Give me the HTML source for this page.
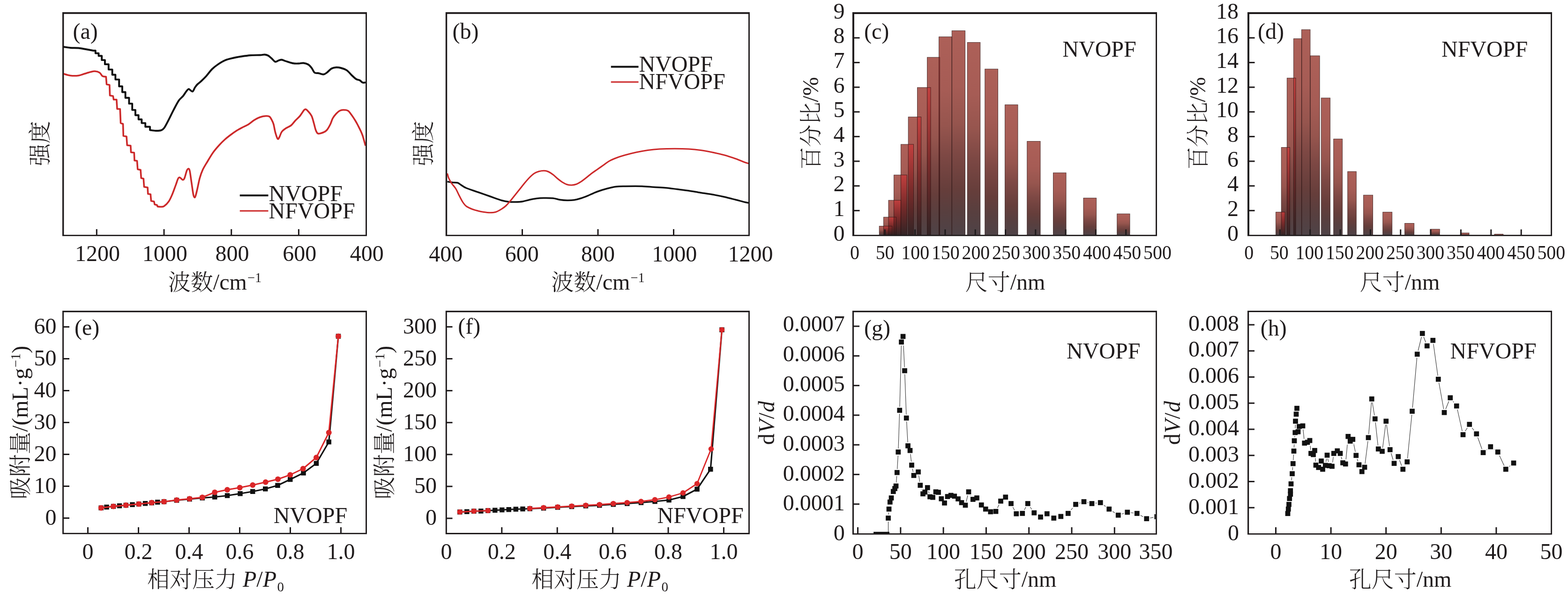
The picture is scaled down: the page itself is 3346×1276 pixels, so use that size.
<!DOCTYPE html>
<html lang="zh">
<head>
<meta charset="utf-8">
<title>NVOPF / NFVOPF characterization</title>
<style>
html,body{margin:0;padding:0;background:#fff;}
body{width:3346px;height:1276px;}
svg{display:block;}
.t{font-family:"Liberation Serif","Noto Serif CJK SC",serif;fill:#1f1b1c;font-weight:400;}
.c{font-family:"Liberation Serif","Noto Serif CJK SC",serif;fill:#1f1b1c;font-weight:300;}
.i{font-style:italic;font-weight:400;}
</style>
</head>
<body>
<svg width="3346" height="1276" viewBox="0 0 3346 1276">
<defs>
<linearGradient id="gb" x1="0" y1="0" x2="0" y2="1">
<stop offset="0" stop-color="#ad6058"/>
<stop offset="0.27" stop-color="#a65c55"/>
<stop offset="0.45" stop-color="#96554e"/>
<stop offset="0.6" stop-color="#7d4844"/>
<stop offset="0.77" stop-color="#663e3b"/>
<stop offset="0.88" stop-color="#583f3f"/>
<stop offset="1" stop-color="#4e4347"/>
</linearGradient>
<linearGradient id="go" x1="0" y1="0" x2="0" y2="1">
<stop offset="0" stop-color="#c63a3a"/>
<stop offset="0.5" stop-color="#7a2626"/>
<stop offset="1" stop-color="#2e1f20"/>
</linearGradient>
</defs>
<rect x="0" y="0" width="3346" height="1276" fill="#ffffff"/>
<path d="M133,26H783V503.8H133Z M136.4,29.8V501H780.1V29.8Z" fill="#1f1b1c" fill-rule="evenodd"/>
<line x1="206.3" y1="502" x2="206.3" y2="489" stroke="#1f1b1c" stroke-width="3"/>
<line x1="350" y1="502" x2="350" y2="489" stroke="#1f1b1c" stroke-width="3"/>
<line x1="493.7" y1="502" x2="493.7" y2="489" stroke="#1f1b1c" stroke-width="3"/>
<line x1="637.4" y1="502" x2="637.4" y2="489" stroke="#1f1b1c" stroke-width="3"/>
<text x="208.1" y="557" font-size="48" text-anchor="middle" class="t" >1200</text>
<text x="351.8" y="557" font-size="48" text-anchor="middle" class="t" >1000</text>
<text x="495.5" y="557" font-size="48" text-anchor="middle" class="t" >800</text>
<text x="639.2" y="557" font-size="48" text-anchor="middle" class="t" >600</text>
<text x="782.8" y="557" font-size="48" text-anchor="middle" class="t" >400</text>
<text x="458.5" y="617.5" font-size="48" text-anchor="middle" class="t" ><tspan class="c" dy="1.2">波数</tspan><tspan dy="-1.2">/</tspan>cm<tspan dx="1" dy="-16" font-size="28.5">−1</tspan></text>
<text transform="translate(101 306) rotate(-90)" font-size="48" text-anchor="middle" class="t" ><tspan class="c" dy="1.2">强度</tspan></text>
<text x="155.5" y="82.5" font-size="48" text-anchor="start" class="t" >(a)</text>
<clipPath id="ca"><rect x="136" y="29" width="644" height="472"/></clipPath>
<path d="M135.5,157.5C137.92,158.12 144.67,160.62 150,161.25C155.33,161.88 162.5,161.88 167.5,161.25C172.5,160.62 175.83,158.75 180,157.5C184.17,156.25 188.75,154.67 192.5,153.75C196.25,152.83 199.17,151.79 202.5,152C205.83,152.21 209.79,153.25 212.5,155C215.21,156.75 216.46,161.04 218.75,162.5C221.04,163.96 225,163.54 226.25,163.75L226.25,163.75L227.5,180L233.75,181.25L234.5,203.75L241.25,205L242.5,212.5L248.75,212.5L250,232.5L256.25,232.5L257.5,262.5L262.5,264.5L263.25,290L270,291.25L271.25,310L278.75,310.75L279.5,325L286.25,325.75L287,342.5L292.5,343.25L293.75,361.25L300,362.5L301.25,380L306.25,381.25L307.5,398.75L315,400L315.75,413.75L321.25,414.5L322.5,428.75L328.75,430L330,436.25L335,437.5L336.25,440.75L336.25,440.75C337.29,440.83 340.21,441.38 342.5,441.25C344.79,441.12 347.08,441.88 350,440C352.92,438.12 357.08,434.17 360,430C362.92,425.83 365,420.83 367.5,415C370,409.17 372.92,400.62 375,395C377.08,389.38 378.54,383.96 380,381.25C381.46,378.54 382.08,378.33 383.75,378.75C385.42,379.17 388.33,383.54 390,383.75C391.67,383.96 392.29,383.33 393.75,380C395.21,376.67 397.29,367.08 398.75,363.75C400.21,360.42 401.46,359.79 402.5,360C403.54,360.21 403.96,360 405,365C406.04,370 407.5,381.67 408.75,390C410,398.33 411.46,409.79 412.5,415C413.54,420.21 414.17,420.83 415,421.25C415.83,421.67 416.46,420.62 417.5,417.5C418.54,414.38 419.79,408.75 421.25,402.5C422.71,396.25 424.38,386.67 426.25,380C428.12,373.33 429.79,368.33 432.5,362.5C435.21,356.67 438.75,351.25 442.5,345C446.25,338.75 450.83,330.83 455,325C459.17,319.17 463.33,314.58 467.5,310C471.67,305.42 475.83,301.25 480,297.5C484.17,293.75 488.33,290.62 492.5,287.5C496.67,284.38 500.83,281.38 505,278.75C509.17,276.12 513.33,273.96 517.5,271.75C521.67,269.54 525.83,268.08 530,265.5C534.17,262.92 538.33,258.83 542.5,256.25C546.67,253.67 550.83,251.46 555,250C559.17,248.54 564.17,247.71 567.5,247.5C570.83,247.29 572.92,247.29 575,248.75C577.08,250.21 578.54,253.54 580,256.25C581.46,258.96 582.5,260.62 583.75,265C585,269.38 586.04,277.29 587.5,282.5C588.96,287.71 591.04,294.58 592.5,296.25C593.96,297.92 594.79,295 596.25,292.5C597.71,290 598.96,284.38 601.25,281.25C603.54,278.12 606.67,276.04 610,273.75C613.33,271.46 617.92,270.21 621.25,267.5C624.58,264.79 626.88,260.83 630,257.5C633.12,254.17 636.88,251.25 640,247.5C643.12,243.75 646.67,237.38 648.75,235C650.83,232.62 651.04,232.83 652.5,233.25C653.96,233.67 655.42,235.12 657.5,237.5C659.58,239.88 662.92,243.12 665,247.5C667.08,251.88 668.54,258.75 670,263.75C671.46,268.75 672.29,273.96 673.75,277.5C675.21,281.04 676.04,284.17 678.75,285C681.46,285.83 686.88,283.75 690,282.5C693.12,281.25 695,280.42 697.5,277.5C700,274.58 702.92,269.17 705,265C707.08,260.83 707.92,256.25 710,252.5C712.08,248.75 715,245.21 717.5,242.5C720,239.79 722.5,237.58 725,236.25C727.5,234.92 729.58,234.5 732.5,234.5C735.42,234.5 739.58,234.5 742.5,236.25C745.42,238 747.5,241.67 750,245C752.5,248.33 755.42,252.92 757.5,256.25C759.58,259.58 760.42,261.04 762.5,265C764.58,268.96 768.08,275.83 770,280C771.92,284.17 772.33,284.83 774,290C775.67,295.17 779,307.5 780,311" fill="none" stroke="#cc2829" stroke-width="3.6" stroke-linejoin="round" clip-path="url(#ca)"/>
<path d="M135.5,100C137.92,100.33 144.67,101.58 150,102C155.33,102.42 162.5,102.08 167.5,102.5C172.5,102.92 174.75,103.58 180,104.5C185.25,105.42 195.83,107.42 199,108L199.04,108L203.75,108L203.75,113.61L210.47,113.61L210.47,119.21L217.19,119.21L217.19,128.17L223.91,128.17L223.91,137.13L231.75,137.13L231.75,148.33L239.59,148.33L239.59,159.53L246.31,159.53L246.31,169.61L254.16,169.61L254.16,184.18L260.88,184.18L260.88,196.5L267.6,196.5L267.6,208.82L275.44,208.82L275.44,221.14L282.16,221.14L282.16,234.58L288.88,234.58L288.88,245.79L295.6,245.79L295.6,254.75L302.32,254.75L302.32,262.59L310.16,262.59L310.16,270.43L320.02,270.43L320.02,277.6L320.02,277.6C322.08,277.82 328.42,278.87 332.34,278.94C336.26,279.02 340.56,279.02 343.55,278.05C346.53,277.08 347.65,276.63 350.27,273.12C352.88,269.61 355.87,263.41 359.23,256.99C362.59,250.56 366.7,241.68 370.43,234.58C374.16,227.49 378.27,219.35 381.63,214.42C384.99,209.49 387.95,208.25 390.59,205.01C393.24,201.77 395.52,197.5 397.5,195C399.48,192.5 401.04,190.42 402.5,190C403.96,189.58 404.79,191.67 406.25,192.5C407.71,193.33 409.58,196.04 411.25,195C412.92,193.96 414.58,188.75 416.25,186.25C417.92,183.75 418.96,182.29 421.25,180C423.54,177.71 426.88,175.42 430,172.5C433.12,169.58 436.25,166.67 440,162.5C443.75,158.33 448.33,151.67 452.5,147.5C456.67,143.33 460.42,140.62 465,137.5C469.58,134.38 474.58,131.04 480,128.75C485.42,126.46 491.67,125.12 497.5,123.75C503.33,122.38 508.75,121.46 515,120.5C521.25,119.54 528.33,118.5 535,118C541.67,117.5 550,117.75 555,117.5C560,117.25 562.08,116.29 565,116.5C567.92,116.71 570,117.33 572.5,118.75C575,120.17 577.5,122.83 580,125C582.5,127.17 585,131.12 587.5,131.75C590,132.38 592.71,129.46 595,128.75C597.29,128.04 598.75,127.21 601.25,127.5C603.75,127.79 606.04,129.25 610,130.5C613.96,131.75 620.42,134.17 625,135C629.58,135.83 633.75,135.58 637.5,135.5C641.25,135.42 644.17,134.17 647.5,134.5C650.83,134.83 654.58,135.75 657.5,137.5C660.42,139.25 662.71,142.08 665,145C667.29,147.92 668.75,153.12 671.25,155C673.75,156.88 676.88,155.62 680,156.25C683.12,156.88 687.08,158.96 690,158.75C692.92,158.54 694.58,157.08 697.5,155C700.42,152.92 704.17,148.12 707.5,146.25C710.83,144.38 714.17,143.96 717.5,143.75C720.83,143.54 723.75,143.96 727.5,145C731.25,146.04 736.25,147.5 740,150C743.75,152.5 746.67,156.88 750,160C753.33,163.12 757.08,166.88 760,168.75C762.92,170.62 765.17,170 767.5,171.25C769.83,172.5 771.92,175.46 774,176.25C776.08,177.04 779,176.04 780,176" fill="none" stroke="#0e0e0e" stroke-width="3.9" stroke-linejoin="round" clip-path="url(#ca)"/>
<line x1="511.75" y1="417" x2="572.5" y2="417" stroke="#111111" stroke-width="4"/>
<line x1="511.75" y1="450" x2="572.5" y2="450" stroke="#cc2829" stroke-width="3"/>
<text x="573.5" y="428.75" font-size="48" text-anchor="start" class="t" >NVOPF</text>
<text x="573.5" y="465.75" font-size="48" text-anchor="start" class="t" >NFVOPF</text>
<path d="M950.8,26H1599.9V503.8H950.8Z M954.2,29.8V501H1597V29.8Z" fill="#1f1b1c" fill-rule="evenodd"/>
<line x1="1114.5" y1="502" x2="1114.5" y2="489" stroke="#1f1b1c" stroke-width="3"/>
<line x1="1276" y1="502" x2="1276" y2="489" stroke="#1f1b1c" stroke-width="3"/>
<line x1="1437.5" y1="502" x2="1437.5" y2="489" stroke="#1f1b1c" stroke-width="3"/>
<text x="951.3" y="557.6" font-size="48" text-anchor="middle" class="t" >400</text>
<text x="1113.8" y="557.6" font-size="48" text-anchor="middle" class="t" >600</text>
<text x="1276" y="557.6" font-size="48" text-anchor="middle" class="t" >800</text>
<text x="1439.2" y="557.6" font-size="48" text-anchor="middle" class="t" >1000</text>
<text x="1601.4" y="557.6" font-size="48" text-anchor="middle" class="t" >1200</text>
<text x="1276" y="617.5" font-size="48" text-anchor="middle" class="t" ><tspan class="c" dy="1.2">波数</tspan><tspan dy="-1.2">/</tspan>cm<tspan dx="1" dy="-16" font-size="28.5">−1</tspan></text>
<text transform="translate(919 306) rotate(-90)" font-size="48" text-anchor="middle" class="t" ><tspan class="c" dy="1.2">强度</tspan></text>
<text x="965.5" y="83" font-size="48" text-anchor="start" class="t" >(b)</text>
<clipPath id="cb"><rect x="954" y="29" width="643" height="472"/></clipPath>
<path d="M954.5,387.5C956.25,387.79 961.38,388.83 965,389.25C968.62,389.67 973.33,389.25 976.25,390C979.17,390.75 979.38,391.88 982.5,393.75C985.62,395.62 988.75,398.54 995,401.25C1001.25,403.96 1011.67,407.08 1020,410C1028.33,412.92 1036.67,415.83 1045,418.75C1053.33,421.67 1063.33,425.54 1070,427.5C1076.67,429.46 1080,429.92 1085,430.5C1090,431.08 1095,431.08 1100,431C1105,430.92 1110,430.79 1115,430C1120,429.21 1125,427.33 1130,426.25C1135,425.17 1140,424.12 1145,423.5C1150,422.88 1154.17,422.58 1160,422.5C1165.83,422.42 1174.17,422.38 1180,423C1185.83,423.62 1190,425.5 1195,426.25C1200,427 1205,427.42 1210,427.5C1215,427.58 1220,427.5 1225,426.75C1230,426 1234.58,424.75 1240,423C1245.42,421.25 1251.67,418.62 1257.5,416.25C1263.33,413.88 1268.75,411.04 1275,408.75C1281.25,406.46 1288.33,404.25 1295,402.5C1301.67,400.75 1308.33,399.08 1315,398.25C1321.67,397.42 1325.83,397.62 1335,397.5C1344.17,397.38 1360,397.21 1370,397.5C1380,397.79 1386.67,398.71 1395,399.25C1403.33,399.79 1411.67,400 1420,400.75C1428.33,401.5 1436.67,402.71 1445,403.75C1453.33,404.79 1461.67,405.75 1470,407C1478.33,408.25 1486.67,409.92 1495,411.25C1503.33,412.58 1511.67,413.54 1520,415C1528.33,416.46 1536.67,418.12 1545,420C1553.33,421.88 1562.67,424.38 1570,426.25C1577.33,428.12 1584.33,430.12 1589,431.25C1593.67,432.38 1596.5,432.71 1598,433" fill="none" stroke="#111111" stroke-width="3.5" stroke-linejoin="round" clip-path="url(#cb)"/>
<path d="M954.5,370C955,371.67 955.96,376.46 957.5,380C959.04,383.54 961.25,387.5 963.75,391.25C966.25,395 969.79,398.12 972.5,402.5C975.21,406.88 977.5,412.71 980,417.5C982.5,422.29 985,427.5 987.5,431.25C990,435 991.67,437.5 995,440C998.33,442.5 1003.33,444.58 1007.5,446.25C1011.67,447.92 1015.83,448.96 1020,450C1024.17,451.04 1028.33,451.88 1032.5,452.5C1036.67,453.12 1040.83,453.75 1045,453.75C1049.17,453.75 1053.33,453.75 1057.5,452.5C1061.67,451.25 1066.25,448.54 1070,446.25C1073.75,443.96 1076.67,441.88 1080,438.75C1083.33,435.62 1086.67,431.46 1090,427.5C1093.33,423.54 1096.67,419.17 1100,415C1103.33,410.83 1106.67,406.67 1110,402.5C1113.33,398.33 1116.67,393.96 1120,390C1123.33,386.04 1126.67,382.08 1130,378.75C1133.33,375.42 1136.67,372.17 1140,370C1143.33,367.83 1146.46,366.71 1150,365.75C1153.54,364.79 1157.92,364.17 1161.25,364.25C1164.58,364.33 1166.88,364.88 1170,366.25C1173.12,367.62 1176.67,370 1180,372.5C1183.33,375 1186.67,378.54 1190,381.25C1193.33,383.96 1196.67,386.67 1200,388.75C1203.33,390.83 1206.67,392.71 1210,393.75C1213.33,394.79 1216.67,395.12 1220,395C1223.33,394.88 1226.67,394.25 1230,393C1233.33,391.75 1236.67,389.67 1240,387.5C1243.33,385.33 1246.25,382.92 1250,380C1253.75,377.08 1258.33,373.12 1262.5,370C1266.67,366.88 1270.83,364.17 1275,361.25C1279.17,358.33 1283.33,355.42 1287.5,352.5C1291.67,349.58 1295.42,346.33 1300,343.75C1304.58,341.17 1309.58,339.08 1315,337C1320.42,334.92 1325.42,333.25 1332.5,331.25C1339.58,329.25 1349.17,326.79 1357.5,325C1365.83,323.21 1374.17,321.67 1382.5,320.5C1390.83,319.33 1397.92,318.54 1407.5,318C1417.08,317.46 1429.58,317.25 1440,317.25C1450.42,317.25 1460.83,317.46 1470,318C1479.17,318.54 1486.67,319.33 1495,320.5C1503.33,321.67 1511.67,323.29 1520,325C1528.33,326.71 1536.67,328.46 1545,330.75C1553.33,333.04 1562.67,336.17 1570,338.75C1577.33,341.33 1584.33,344.54 1589,346.25C1593.67,347.96 1596.5,348.54 1598,349" fill="none" stroke="#cc2829" stroke-width="3.1" stroke-linejoin="round" clip-path="url(#cb)"/>
<line x1="1303.75" y1="142.5" x2="1362.5" y2="142.5" stroke="#111111" stroke-width="4"/>
<line x1="1303.75" y1="175" x2="1362.5" y2="175" stroke="#cc2829" stroke-width="3"/>
<text x="1363.5" y="152.5" font-size="48" text-anchor="start" class="t" >NVOPF</text>
<text x="1363.5" y="190" font-size="48" text-anchor="start" class="t" >NFVOPF</text>
<rect x="1876.25" y="482.5" width="27.5" height="19.5" fill="url(#gb)"/>
<rect x="1885.5" y="463.25" width="27" height="38.75" fill="url(#gb)"/>
<rect x="1896" y="427.3" width="26.5" height="74.7" fill="url(#gb)"/>
<rect x="1907.5" y="373.3" width="27.7" height="128.7" fill="url(#gb)"/>
<rect x="1922.4" y="308" width="27.1" height="194" fill="url(#gb)"/>
<rect x="1938.2" y="249.5" width="27.4" height="252.5" fill="url(#gb)"/>
<rect x="1957.5" y="186.75" width="28.5" height="315.25" fill="url(#gb)"/>
<rect x="1978.6" y="122.25" width="26.7" height="379.75" fill="url(#gb)"/>
<rect x="2003.6" y="78.5" width="27.65" height="423.5" fill="url(#gb)"/>
<rect x="2031.25" y="65.5" width="28.25" height="436.5" fill="url(#gb)"/>
<rect x="2064.25" y="90.5" width="27.5" height="411.5" fill="url(#gb)"/>
<rect x="2101.75" y="147.25" width="27.75" height="354.75" fill="url(#gb)"/>
<rect x="2144.5" y="223.5" width="27.5" height="278.5" fill="url(#gb)"/>
<rect x="2191.75" y="301.5" width="28.25" height="200.5" fill="url(#gb)"/>
<rect x="2247.5" y="368.75" width="27.5" height="133.25" fill="url(#gb)"/>
<rect x="2312" y="422.5" width="27.5" height="79.5" fill="url(#gb)"/>
<rect x="2383.75" y="456.25" width="27.25" height="45.75" fill="url(#gb)"/>
<rect x="1885.5" y="482.5" width="18.25" height="19.5" fill="url(#go)" opacity="0.85"/>
<rect x="1896" y="482.5" width="7.75" height="19.5" fill="url(#go)" opacity="0.85"/>
<rect x="1896" y="463.25" width="16.5" height="38.75" fill="url(#go)" opacity="0.85"/>
<rect x="1907.5" y="463.25" width="5" height="38.75" fill="url(#go)" opacity="0.85"/>
<rect x="1907.5" y="427.3" width="15" height="74.7" fill="url(#go)" opacity="0.85"/>
<rect x="1922.4" y="373.3" width="12.8" height="128.7" fill="url(#go)" opacity="0.85"/>
<rect x="1938.2" y="308" width="11.3" height="194" fill="url(#go)" opacity="0.85"/>
<rect x="1957.5" y="249.5" width="8.1" height="252.5" fill="url(#go)" opacity="0.85"/>
<rect x="1978.6" y="186.75" width="7.4" height="315.25" fill="url(#go)" opacity="0.85"/>
<rect x="2003.6" y="122.25" width="1.7" height="379.75" fill="url(#go)" opacity="0.85"/>
<rect x="1876.25" y="482.5" width="27.5" height="19.5" fill="none" stroke="#2a1212" stroke-width="1" stroke-opacity="0.75"/>
<rect x="1885.5" y="463.25" width="27" height="38.75" fill="none" stroke="#2a1212" stroke-width="1" stroke-opacity="0.75"/>
<rect x="1896" y="427.3" width="26.5" height="74.7" fill="none" stroke="#2a1212" stroke-width="1" stroke-opacity="0.75"/>
<rect x="1907.5" y="373.3" width="27.7" height="128.7" fill="none" stroke="#2a1212" stroke-width="1" stroke-opacity="0.75"/>
<rect x="1922.4" y="308" width="27.1" height="194" fill="none" stroke="#2a1212" stroke-width="1" stroke-opacity="0.75"/>
<rect x="1938.2" y="249.5" width="27.4" height="252.5" fill="none" stroke="#2a1212" stroke-width="1" stroke-opacity="0.75"/>
<rect x="1957.5" y="186.75" width="28.5" height="315.25" fill="none" stroke="#2a1212" stroke-width="1" stroke-opacity="0.75"/>
<rect x="1978.6" y="122.25" width="26.7" height="379.75" fill="none" stroke="#2a1212" stroke-width="1" stroke-opacity="0.75"/>
<rect x="2003.6" y="78.5" width="27.65" height="423.5" fill="none" stroke="#2a1212" stroke-width="1" stroke-opacity="0.75"/>
<rect x="2031.25" y="65.5" width="28.25" height="436.5" fill="none" stroke="#2a1212" stroke-width="1" stroke-opacity="0.75"/>
<rect x="2064.25" y="90.5" width="27.5" height="411.5" fill="none" stroke="#2a1212" stroke-width="1" stroke-opacity="0.75"/>
<rect x="2101.75" y="147.25" width="27.75" height="354.75" fill="none" stroke="#2a1212" stroke-width="1" stroke-opacity="0.75"/>
<rect x="2144.5" y="223.5" width="27.5" height="278.5" fill="none" stroke="#2a1212" stroke-width="1" stroke-opacity="0.75"/>
<rect x="2191.75" y="301.5" width="28.25" height="200.5" fill="none" stroke="#2a1212" stroke-width="1" stroke-opacity="0.75"/>
<rect x="2247.5" y="368.75" width="27.5" height="133.25" fill="none" stroke="#2a1212" stroke-width="1" stroke-opacity="0.75"/>
<rect x="2312" y="422.5" width="27.5" height="79.5" fill="none" stroke="#2a1212" stroke-width="1" stroke-opacity="0.75"/>
<rect x="2383.75" y="456.25" width="27.25" height="45.75" fill="none" stroke="#2a1212" stroke-width="1" stroke-opacity="0.75"/>
<path d="M1818.9,26H2469V503.8H1818.9Z M1822.9,30V501H2466.1V30Z" fill="#1f1b1c" fill-rule="evenodd"/>
<line x1="1821.5" y1="449.35" x2="1834.5" y2="449.35" stroke="#1f1b1c" stroke-width="3"/>
<line x1="1821.5" y1="396.7" x2="1834.5" y2="396.7" stroke="#1f1b1c" stroke-width="3"/>
<line x1="1821.5" y1="344.05" x2="1834.5" y2="344.05" stroke="#1f1b1c" stroke-width="3"/>
<line x1="1821.5" y1="291.4" x2="1834.5" y2="291.4" stroke="#1f1b1c" stroke-width="3"/>
<line x1="1821.5" y1="238.75" x2="1834.5" y2="238.75" stroke="#1f1b1c" stroke-width="3"/>
<line x1="1821.5" y1="186.1" x2="1834.5" y2="186.1" stroke="#1f1b1c" stroke-width="3"/>
<line x1="1821.5" y1="133.45" x2="1834.5" y2="133.45" stroke="#1f1b1c" stroke-width="3"/>
<line x1="1821.5" y1="80.8" x2="1834.5" y2="80.8" stroke="#1f1b1c" stroke-width="3"/>
<line x1="1888.3" y1="502" x2="1888.3" y2="489.5" stroke="#1f1b1c" stroke-width="3"/>
<line x1="1952.6" y1="502" x2="1952.6" y2="489.5" stroke="#1f1b1c" stroke-width="3"/>
<line x1="2016.9" y1="502" x2="2016.9" y2="489.5" stroke="#1f1b1c" stroke-width="3"/>
<line x1="2081.2" y1="502" x2="2081.2" y2="489.5" stroke="#1f1b1c" stroke-width="3"/>
<line x1="2145.5" y1="502" x2="2145.5" y2="489.5" stroke="#1f1b1c" stroke-width="3"/>
<line x1="2209.8" y1="502" x2="2209.8" y2="489.5" stroke="#1f1b1c" stroke-width="3"/>
<line x1="2274.1" y1="502" x2="2274.1" y2="489.5" stroke="#1f1b1c" stroke-width="3"/>
<line x1="2338.4" y1="502" x2="2338.4" y2="489.5" stroke="#1f1b1c" stroke-width="3"/>
<line x1="2402.7" y1="502" x2="2402.7" y2="489.5" stroke="#1f1b1c" stroke-width="3"/>
<text x="1802.5" y="513.5" font-size="48" text-anchor="end" class="t" >0</text>
<text x="1802.5" y="460.85" font-size="48" text-anchor="end" class="t" >1</text>
<text x="1802.5" y="408.2" font-size="48" text-anchor="end" class="t" >2</text>
<text x="1802.5" y="355.55" font-size="48" text-anchor="end" class="t" >3</text>
<text x="1802.5" y="302.9" font-size="48" text-anchor="end" class="t" >4</text>
<text x="1802.5" y="250.25" font-size="48" text-anchor="end" class="t" >5</text>
<text x="1802.5" y="197.6" font-size="48" text-anchor="end" class="t" >6</text>
<text x="1802.5" y="144.95" font-size="48" text-anchor="end" class="t" >7</text>
<text x="1802.5" y="92.3" font-size="48" text-anchor="end" class="t" >8</text>
<text x="1802.5" y="39.65" font-size="48" text-anchor="end" class="t" >9</text>
<text transform="translate(1824 553) scale(0.94 1)" font-size="42.4" text-anchor="middle" class="t">0</text>
<text transform="translate(1888.6 553) scale(0.94 1)" font-size="42.4" text-anchor="middle" class="t">50</text>
<text transform="translate(1953.2 553) scale(0.94 1)" font-size="42.4" text-anchor="middle" class="t">100</text>
<text transform="translate(2017.8 553) scale(0.94 1)" font-size="42.4" text-anchor="middle" class="t">150</text>
<text transform="translate(2082.4 553) scale(0.94 1)" font-size="42.4" text-anchor="middle" class="t">200</text>
<text transform="translate(2147 553) scale(0.94 1)" font-size="42.4" text-anchor="middle" class="t">250</text>
<text transform="translate(2211.6 553) scale(0.94 1)" font-size="42.4" text-anchor="middle" class="t">300</text>
<text transform="translate(2276.2 553) scale(0.94 1)" font-size="42.4" text-anchor="middle" class="t">350</text>
<text transform="translate(2340.8 553) scale(0.94 1)" font-size="42.4" text-anchor="middle" class="t">400</text>
<text transform="translate(2405.4 553) scale(0.94 1)" font-size="42.4" text-anchor="middle" class="t">450</text>
<text transform="translate(2470 553) scale(0.94 1)" font-size="42.4" text-anchor="middle" class="t">500</text>
<text x="2145" y="618" font-size="48" text-anchor="middle" class="t" ><tspan class="c" dy="1.2">尺寸</tspan><tspan dy="-1.2">/</tspan>nm</text>
<text transform="translate(1746 263) rotate(-90)" font-size="48" text-anchor="middle" class="t" ><tspan class="c" dy="1.2">百分比</tspan><tspan dy="-1.2">/</tspan>%</text>
<text x="1844" y="83" font-size="48" text-anchor="start" class="t" >(c)</text>
<text x="2267.3" y="120.75" font-size="48" text-anchor="start" class="t" >NVOPF</text>
<rect x="2722.5" y="452.5" width="19.5" height="49.5" fill="url(#gb)"/>
<rect x="2734.25" y="314.5" width="18.25" height="187.5" fill="url(#gb)"/>
<rect x="2746.4" y="166.5" width="18.6" height="335.5" fill="url(#gb)"/>
<rect x="2760.5" y="82.5" width="17.3" height="419.5" fill="url(#gb)"/>
<rect x="2777.5" y="63.2" width="18.4" height="438.8" fill="url(#gb)"/>
<rect x="2795.9" y="119" width="20.2" height="383" fill="url(#gb)"/>
<rect x="2819.4" y="209" width="19" height="293" fill="url(#gb)"/>
<rect x="2845.75" y="296.5" width="18.75" height="205.5" fill="url(#gb)"/>
<rect x="2875.75" y="366" width="18.5" height="136" fill="url(#gb)"/>
<rect x="2909.6" y="416.25" width="19.9" height="85.75" fill="url(#gb)"/>
<rect x="2950.75" y="452.6" width="19.85" height="49.4" fill="url(#gb)"/>
<rect x="2997.6" y="476.5" width="20" height="25.5" fill="url(#gb)"/>
<rect x="3052" y="489" width="20.2" height="13" fill="url(#gb)"/>
<rect x="3116.2" y="497" width="18.8" height="5" fill="url(#gb)"/>
<rect x="3189" y="499.5" width="18.8" height="2.5" fill="url(#gb)"/>
<rect x="2734.25" y="452.5" width="7.75" height="49.5" fill="url(#go)" opacity="0.85"/>
<rect x="2746.4" y="314.5" width="6.1" height="187.5" fill="url(#go)" opacity="0.85"/>
<rect x="2760.5" y="166.5" width="4.5" height="335.5" fill="url(#go)" opacity="0.85"/>
<rect x="2722.5" y="452.5" width="19.5" height="49.5" fill="none" stroke="#2a1212" stroke-width="1" stroke-opacity="0.75"/>
<rect x="2734.25" y="314.5" width="18.25" height="187.5" fill="none" stroke="#2a1212" stroke-width="1" stroke-opacity="0.75"/>
<rect x="2746.4" y="166.5" width="18.6" height="335.5" fill="none" stroke="#2a1212" stroke-width="1" stroke-opacity="0.75"/>
<rect x="2760.5" y="82.5" width="17.3" height="419.5" fill="none" stroke="#2a1212" stroke-width="1" stroke-opacity="0.75"/>
<rect x="2777.5" y="63.2" width="18.4" height="438.8" fill="none" stroke="#2a1212" stroke-width="1" stroke-opacity="0.75"/>
<rect x="2795.9" y="119" width="20.2" height="383" fill="none" stroke="#2a1212" stroke-width="1" stroke-opacity="0.75"/>
<rect x="2819.4" y="209" width="19" height="293" fill="none" stroke="#2a1212" stroke-width="1" stroke-opacity="0.75"/>
<rect x="2845.75" y="296.5" width="18.75" height="205.5" fill="none" stroke="#2a1212" stroke-width="1" stroke-opacity="0.75"/>
<rect x="2875.75" y="366" width="18.5" height="136" fill="none" stroke="#2a1212" stroke-width="1" stroke-opacity="0.75"/>
<rect x="2909.6" y="416.25" width="19.9" height="85.75" fill="none" stroke="#2a1212" stroke-width="1" stroke-opacity="0.75"/>
<rect x="2950.75" y="452.6" width="19.85" height="49.4" fill="none" stroke="#2a1212" stroke-width="1" stroke-opacity="0.75"/>
<rect x="2997.6" y="476.5" width="20" height="25.5" fill="none" stroke="#2a1212" stroke-width="1" stroke-opacity="0.75"/>
<rect x="3052" y="489" width="20.2" height="13" fill="none" stroke="#2a1212" stroke-width="1" stroke-opacity="0.75"/>
<rect x="3116.2" y="497" width="18.8" height="5" fill="none" stroke="#2a1212" stroke-width="1" stroke-opacity="0.75"/>
<rect x="3189" y="499.5" width="18.8" height="2.5" fill="none" stroke="#2a1212" stroke-width="1" stroke-opacity="0.75"/>
<path d="M2662,26H3312V503.8H2662Z M2666,30V501H3309.1V30Z" fill="#1f1b1c" fill-rule="evenodd"/>
<line x1="2664.5" y1="449.35" x2="2677.5" y2="449.35" stroke="#1f1b1c" stroke-width="3"/>
<line x1="2664.5" y1="396.7" x2="2677.5" y2="396.7" stroke="#1f1b1c" stroke-width="3"/>
<line x1="2664.5" y1="344.05" x2="2677.5" y2="344.05" stroke="#1f1b1c" stroke-width="3"/>
<line x1="2664.5" y1="291.4" x2="2677.5" y2="291.4" stroke="#1f1b1c" stroke-width="3"/>
<line x1="2664.5" y1="238.75" x2="2677.5" y2="238.75" stroke="#1f1b1c" stroke-width="3"/>
<line x1="2664.5" y1="186.1" x2="2677.5" y2="186.1" stroke="#1f1b1c" stroke-width="3"/>
<line x1="2664.5" y1="133.45" x2="2677.5" y2="133.45" stroke="#1f1b1c" stroke-width="3"/>
<line x1="2664.5" y1="80.8" x2="2677.5" y2="80.8" stroke="#1f1b1c" stroke-width="3"/>
<line x1="2731.35" y1="502" x2="2731.35" y2="489.5" stroke="#1f1b1c" stroke-width="3"/>
<line x1="2795.7" y1="502" x2="2795.7" y2="489.5" stroke="#1f1b1c" stroke-width="3"/>
<line x1="2860.05" y1="502" x2="2860.05" y2="489.5" stroke="#1f1b1c" stroke-width="3"/>
<line x1="2924.4" y1="502" x2="2924.4" y2="489.5" stroke="#1f1b1c" stroke-width="3"/>
<line x1="2988.75" y1="502" x2="2988.75" y2="489.5" stroke="#1f1b1c" stroke-width="3"/>
<line x1="3053.1" y1="502" x2="3053.1" y2="489.5" stroke="#1f1b1c" stroke-width="3"/>
<line x1="3117.45" y1="502" x2="3117.45" y2="489.5" stroke="#1f1b1c" stroke-width="3"/>
<line x1="3181.8" y1="502" x2="3181.8" y2="489.5" stroke="#1f1b1c" stroke-width="3"/>
<line x1="3246.15" y1="502" x2="3246.15" y2="489.5" stroke="#1f1b1c" stroke-width="3"/>
<text x="2643" y="513.5" font-size="48" text-anchor="end" class="t" >0</text>
<text x="2643" y="460.85" font-size="48" text-anchor="end" class="t" >2</text>
<text x="2643" y="408.2" font-size="48" text-anchor="end" class="t" >4</text>
<text x="2643" y="355.55" font-size="48" text-anchor="end" class="t" >6</text>
<text x="2643" y="302.9" font-size="48" text-anchor="end" class="t" >8</text>
<text x="2643" y="250.25" font-size="48" text-anchor="end" class="t" >10</text>
<text x="2643" y="197.6" font-size="48" text-anchor="end" class="t" >12</text>
<text x="2643" y="144.95" font-size="48" text-anchor="end" class="t" >14</text>
<text x="2643" y="92.3" font-size="48" text-anchor="end" class="t" >16</text>
<text x="2643" y="39.65" font-size="48" text-anchor="end" class="t" >18</text>
<text transform="translate(2665.3 553) scale(0.94 1)" font-size="42.4" text-anchor="middle" class="t">0</text>
<text transform="translate(2729.8 553) scale(0.94 1)" font-size="42.4" text-anchor="middle" class="t">50</text>
<text transform="translate(2794.3 553) scale(0.94 1)" font-size="42.4" text-anchor="middle" class="t">100</text>
<text transform="translate(2858.8 553) scale(0.94 1)" font-size="42.4" text-anchor="middle" class="t">150</text>
<text transform="translate(2923.3 553) scale(0.94 1)" font-size="42.4" text-anchor="middle" class="t">200</text>
<text transform="translate(2987.8 553) scale(0.94 1)" font-size="42.4" text-anchor="middle" class="t">250</text>
<text transform="translate(3052.3 553) scale(0.94 1)" font-size="42.4" text-anchor="middle" class="t">300</text>
<text transform="translate(3116.8 553) scale(0.94 1)" font-size="42.4" text-anchor="middle" class="t">350</text>
<text transform="translate(3181.3 553) scale(0.94 1)" font-size="42.4" text-anchor="middle" class="t">400</text>
<text transform="translate(3245.8 553) scale(0.94 1)" font-size="42.4" text-anchor="middle" class="t">450</text>
<text transform="translate(3310.3 553) scale(0.94 1)" font-size="42.4" text-anchor="middle" class="t">500</text>
<text x="2987" y="618" font-size="48" text-anchor="middle" class="t" ><tspan class="c" dy="1.2">尺寸</tspan><tspan dy="-1.2">/</tspan>nm</text>
<text transform="translate(2572 263) rotate(-90)" font-size="48" text-anchor="middle" class="t" ><tspan class="c" dy="1.2">百分比</tspan><tspan dy="-1.2">/</tspan>%</text>
<text x="2684" y="83" font-size="48" text-anchor="start" class="t" >(d)</text>
<text x="3076" y="120.75" font-size="48" text-anchor="start" class="t" >NFVOPF</text>
<path d="M133.1,663H783V1139.8H133.1Z M136.1,666.2V1137H780.1V666.2Z" fill="#1f1b1c" fill-rule="evenodd"/>
<line x1="135" y1="1105.5" x2="148" y2="1105.5" stroke="#1f1b1c" stroke-width="3"/>
<line x1="135" y1="1037.5" x2="148" y2="1037.5" stroke="#1f1b1c" stroke-width="3"/>
<line x1="135" y1="969.5" x2="148" y2="969.5" stroke="#1f1b1c" stroke-width="3"/>
<line x1="135" y1="901.5" x2="148" y2="901.5" stroke="#1f1b1c" stroke-width="3"/>
<line x1="135" y1="833.5" x2="148" y2="833.5" stroke="#1f1b1c" stroke-width="3"/>
<line x1="135" y1="765.5" x2="148" y2="765.5" stroke="#1f1b1c" stroke-width="3"/>
<line x1="135" y1="697.5" x2="148" y2="697.5" stroke="#1f1b1c" stroke-width="3"/>
<line x1="187.5" y1="1138" x2="187.5" y2="1125" stroke="#1f1b1c" stroke-width="3"/>
<line x1="295.5" y1="1138" x2="295.5" y2="1125" stroke="#1f1b1c" stroke-width="3"/>
<line x1="403.5" y1="1138" x2="403.5" y2="1125" stroke="#1f1b1c" stroke-width="3"/>
<line x1="511.5" y1="1138" x2="511.5" y2="1125" stroke="#1f1b1c" stroke-width="3"/>
<line x1="619.5" y1="1138" x2="619.5" y2="1125" stroke="#1f1b1c" stroke-width="3"/>
<line x1="727.5" y1="1138" x2="727.5" y2="1125" stroke="#1f1b1c" stroke-width="3"/>
<text x="120.5" y="1119.6" font-size="48" text-anchor="end" class="t" >0</text>
<text x="120.5" y="1051.6" font-size="48" text-anchor="end" class="t" >10</text>
<text x="120.5" y="983.6" font-size="48" text-anchor="end" class="t" >20</text>
<text x="120.5" y="915.6" font-size="48" text-anchor="end" class="t" >30</text>
<text x="120.5" y="847.6" font-size="48" text-anchor="end" class="t" >40</text>
<text x="120.5" y="779.6" font-size="48" text-anchor="end" class="t" >50</text>
<text x="120.5" y="711.6" font-size="48" text-anchor="end" class="t" >60</text>
<text x="187.5" y="1193.3" font-size="48" text-anchor="middle" class="t" >0</text>
<text x="295.5" y="1193.3" font-size="48" text-anchor="middle" class="t" >0.2</text>
<text x="403.5" y="1193.3" font-size="48" text-anchor="middle" class="t" >0.4</text>
<text x="511.5" y="1193.3" font-size="48" text-anchor="middle" class="t" >0.6</text>
<text x="619.5" y="1193.3" font-size="48" text-anchor="middle" class="t" >0.8</text>
<text x="727.5" y="1193.3" font-size="48" text-anchor="middle" class="t" >1.0</text>
<text x="460" y="1252" font-size="48" text-anchor="middle" class="t" ><tspan class="c" dy="1.2">相对压力</tspan><tspan dy="-1.2"> </tspan><tspan class="i">P</tspan>/<tspan class="i">P</tspan><tspan dx="1.5" dy="9.5" font-size="29">0</tspan></text>
<text transform="translate(58.5 901.5) rotate(-90)" font-size="48" text-anchor="middle" class="t" ><tspan class="c" dy="1.2">吸附量</tspan><tspan dy="-1.2">/</tspan>(mL·g<tspan dx="1" dy="-16" font-size="28.5">−1</tspan><tspan dy="16">)</tspan></text>
<text x="159" y="714.5" font-size="48" text-anchor="start" class="t" >(e)</text>
<text x="583.75" y="1115.5" font-size="48" text-anchor="start" class="t" >NVOPF</text>
<polyline points="215.75,1083.75 227.5,1082 242,1080.5 255,1079.25 268.75,1078 282.5,1076.75 296.25,1075.5 310,1074.25 323.75,1073 336.25,1071.5 350,1070.5 377,1067.5 404.5,1065 431.75,1062.5 458.25,1060.5 485,1057.5 512.5,1053.25 539.25,1048.75 566.25,1043.25 592.5,1035.75 619.25,1023 647.5,1009.25 675,988.75 701.75,943 722,717.5" fill="none" stroke="#111111" stroke-width="3.2" stroke-linejoin="round" />
<rect x="210.5" y="1078.5" width="10.5" height="10.5" fill="#111111"/>
<rect x="222.25" y="1076.75" width="10.5" height="10.5" fill="#111111"/>
<rect x="236.75" y="1075.25" width="10.5" height="10.5" fill="#111111"/>
<rect x="249.75" y="1074" width="10.5" height="10.5" fill="#111111"/>
<rect x="263.5" y="1072.75" width="10.5" height="10.5" fill="#111111"/>
<rect x="277.25" y="1071.5" width="10.5" height="10.5" fill="#111111"/>
<rect x="291" y="1070.25" width="10.5" height="10.5" fill="#111111"/>
<rect x="304.75" y="1069" width="10.5" height="10.5" fill="#111111"/>
<rect x="318.5" y="1067.75" width="10.5" height="10.5" fill="#111111"/>
<rect x="331" y="1066.25" width="10.5" height="10.5" fill="#111111"/>
<rect x="344.75" y="1065.25" width="10.5" height="10.5" fill="#111111"/>
<rect x="371.75" y="1062.25" width="10.5" height="10.5" fill="#111111"/>
<rect x="399.25" y="1059.75" width="10.5" height="10.5" fill="#111111"/>
<rect x="426.5" y="1057.25" width="10.5" height="10.5" fill="#111111"/>
<rect x="453" y="1055.25" width="10.5" height="10.5" fill="#111111"/>
<rect x="479.75" y="1052.25" width="10.5" height="10.5" fill="#111111"/>
<rect x="507.25" y="1048" width="10.5" height="10.5" fill="#111111"/>
<rect x="534" y="1043.5" width="10.5" height="10.5" fill="#111111"/>
<rect x="561" y="1038" width="10.5" height="10.5" fill="#111111"/>
<rect x="587.25" y="1030.5" width="10.5" height="10.5" fill="#111111"/>
<rect x="614" y="1017.75" width="10.5" height="10.5" fill="#111111"/>
<rect x="642.25" y="1004" width="10.5" height="10.5" fill="#111111"/>
<rect x="669.75" y="983.5" width="10.5" height="10.5" fill="#111111"/>
<rect x="696.5" y="937.75" width="10.5" height="10.5" fill="#111111"/>
<rect x="716.75" y="712.25" width="10.5" height="10.5" fill="#111111"/>
<polyline points="215.75,1083.75 242,1080.5 268.75,1078 296.25,1075.5 323.75,1072.5 350,1070.5 377,1067 404.5,1064.25 431.75,1061.25 458.25,1050.5 485,1045 511.75,1040.5 539.25,1035 566.75,1028.75 593,1022.5 619.25,1013.25 646.75,1000 675,976.25 701.75,923 722,717.5" fill="none" stroke="#da2628" stroke-width="3" stroke-linejoin="round" />
<circle cx="215.75" cy="1083.75" r="6" fill="#da2628"/>
<circle cx="242" cy="1080.5" r="6" fill="#da2628"/>
<circle cx="268.75" cy="1078" r="6" fill="#da2628"/>
<circle cx="296.25" cy="1075.5" r="6" fill="#da2628"/>
<circle cx="323.75" cy="1072.5" r="6" fill="#da2628"/>
<circle cx="350" cy="1070.5" r="6" fill="#da2628"/>
<circle cx="377" cy="1067" r="6" fill="#da2628"/>
<circle cx="404.5" cy="1064.25" r="6" fill="#da2628"/>
<circle cx="431.75" cy="1061.25" r="6" fill="#da2628"/>
<circle cx="458.25" cy="1050.5" r="6" fill="#da2628"/>
<circle cx="485" cy="1045" r="6" fill="#da2628"/>
<circle cx="511.75" cy="1040.5" r="6" fill="#da2628"/>
<circle cx="539.25" cy="1035" r="6" fill="#da2628"/>
<circle cx="566.75" cy="1028.75" r="6" fill="#da2628"/>
<circle cx="593" cy="1022.5" r="6" fill="#da2628"/>
<circle cx="619.25" cy="1013.25" r="6" fill="#da2628"/>
<circle cx="646.75" cy="1000" r="6" fill="#da2628"/>
<circle cx="675" cy="976.25" r="6" fill="#da2628"/>
<circle cx="701.75" cy="923" r="6" fill="#da2628"/>
<circle cx="722" cy="717.5" r="6" fill="#da2628"/>
<path d="M950.8,663H1599.9V1139.9H950.8Z M953.8,666.2V1137.1H1597V666.2Z" fill="#1f1b1c" fill-rule="evenodd"/>
<line x1="952.5" y1="1106" x2="965.5" y2="1106" stroke="#1f1b1c" stroke-width="3"/>
<line x1="952.5" y1="1037.9" x2="965.5" y2="1037.9" stroke="#1f1b1c" stroke-width="3"/>
<line x1="952.5" y1="969.8" x2="965.5" y2="969.8" stroke="#1f1b1c" stroke-width="3"/>
<line x1="952.5" y1="901.7" x2="965.5" y2="901.7" stroke="#1f1b1c" stroke-width="3"/>
<line x1="952.5" y1="833.6" x2="965.5" y2="833.6" stroke="#1f1b1c" stroke-width="3"/>
<line x1="952.5" y1="765.5" x2="965.5" y2="765.5" stroke="#1f1b1c" stroke-width="3"/>
<line x1="952.5" y1="697.4" x2="965.5" y2="697.4" stroke="#1f1b1c" stroke-width="3"/>
<line x1="1070.8" y1="1138" x2="1070.8" y2="1125" stroke="#1f1b1c" stroke-width="3"/>
<line x1="1189.2" y1="1138" x2="1189.2" y2="1125" stroke="#1f1b1c" stroke-width="3"/>
<line x1="1307.6" y1="1138" x2="1307.6" y2="1125" stroke="#1f1b1c" stroke-width="3"/>
<line x1="1426" y1="1138" x2="1426" y2="1125" stroke="#1f1b1c" stroke-width="3"/>
<line x1="1544.4" y1="1138" x2="1544.4" y2="1125" stroke="#1f1b1c" stroke-width="3"/>
<text x="932" y="1120.3" font-size="48" text-anchor="end" class="t" >0</text>
<text x="932" y="1052.2" font-size="48" text-anchor="end" class="t" >50</text>
<text x="932" y="984.1" font-size="48" text-anchor="end" class="t" >100</text>
<text x="932" y="916" font-size="48" text-anchor="end" class="t" >150</text>
<text x="932" y="847.9" font-size="48" text-anchor="end" class="t" >200</text>
<text x="932" y="779.8" font-size="48" text-anchor="end" class="t" >250</text>
<text x="932" y="711.7" font-size="48" text-anchor="end" class="t" >300</text>
<text x="952.4" y="1193.3" font-size="48" text-anchor="middle" class="t" >0</text>
<text x="1070.8" y="1193.3" font-size="48" text-anchor="middle" class="t" >0.2</text>
<text x="1189.2" y="1193.3" font-size="48" text-anchor="middle" class="t" >0.4</text>
<text x="1307.6" y="1193.3" font-size="48" text-anchor="middle" class="t" >0.6</text>
<text x="1426" y="1193.3" font-size="48" text-anchor="middle" class="t" >0.8</text>
<text x="1544.4" y="1193.3" font-size="48" text-anchor="middle" class="t" >1.0</text>
<text x="1280" y="1252" font-size="48" text-anchor="middle" class="t" ><tspan class="c" dy="1.2">相对压力</tspan><tspan dy="-1.2"> </tspan><tspan class="i">P</tspan>/<tspan class="i">P</tspan><tspan dx="1.5" dy="9.5" font-size="29">0</tspan></text>
<text transform="translate(836 901.5) rotate(-90)" font-size="48" text-anchor="middle" class="t" ><tspan class="c" dy="1.2">吸附量</tspan><tspan dy="-1.2">/</tspan>(mL·g<tspan dx="1" dy="-16" font-size="28.5">−1</tspan><tspan dy="16">)</tspan></text>
<text x="977.3" y="711.5" font-size="48" text-anchor="start" class="t" >(f)</text>
<text x="1402.5" y="1115.5" font-size="48" text-anchor="start" class="t" >NFVOPF</text>
<polyline points="981.25,1092.5 996.25,1091.75 1011.25,1090.75 1026.25,1090.5 1041.25,1089.5 1056.25,1088.75 1071.25,1088 1085.75,1087.25 1100.75,1086.5 1115.5,1086 1130.75,1085.5 1160,1084.25 1190,1082.5 1220,1081 1250,1079.5 1279.25,1078.25 1308.75,1076.25 1338.25,1074.5 1368,1072.5 1397.5,1070 1427.5,1067 1457.5,1059.5 1487.5,1043.75 1516.25,1001.25 1540.5,703.75" fill="none" stroke="#111111" stroke-width="3.2" stroke-linejoin="round" />
<rect x="976" y="1087.25" width="10.5" height="10.5" fill="#111111"/>
<rect x="991" y="1086.5" width="10.5" height="10.5" fill="#111111"/>
<rect x="1006" y="1085.5" width="10.5" height="10.5" fill="#111111"/>
<rect x="1021" y="1085.25" width="10.5" height="10.5" fill="#111111"/>
<rect x="1036" y="1084.25" width="10.5" height="10.5" fill="#111111"/>
<rect x="1051" y="1083.5" width="10.5" height="10.5" fill="#111111"/>
<rect x="1066" y="1082.75" width="10.5" height="10.5" fill="#111111"/>
<rect x="1080.5" y="1082" width="10.5" height="10.5" fill="#111111"/>
<rect x="1095.5" y="1081.25" width="10.5" height="10.5" fill="#111111"/>
<rect x="1110.25" y="1080.75" width="10.5" height="10.5" fill="#111111"/>
<rect x="1125.5" y="1080.25" width="10.5" height="10.5" fill="#111111"/>
<rect x="1154.75" y="1079" width="10.5" height="10.5" fill="#111111"/>
<rect x="1184.75" y="1077.25" width="10.5" height="10.5" fill="#111111"/>
<rect x="1214.75" y="1075.75" width="10.5" height="10.5" fill="#111111"/>
<rect x="1244.75" y="1074.25" width="10.5" height="10.5" fill="#111111"/>
<rect x="1274" y="1073" width="10.5" height="10.5" fill="#111111"/>
<rect x="1303.5" y="1071" width="10.5" height="10.5" fill="#111111"/>
<rect x="1333" y="1069.25" width="10.5" height="10.5" fill="#111111"/>
<rect x="1362.75" y="1067.25" width="10.5" height="10.5" fill="#111111"/>
<rect x="1392.25" y="1064.75" width="10.5" height="10.5" fill="#111111"/>
<rect x="1422.25" y="1061.75" width="10.5" height="10.5" fill="#111111"/>
<rect x="1452.25" y="1054.25" width="10.5" height="10.5" fill="#111111"/>
<rect x="1482.25" y="1038.5" width="10.5" height="10.5" fill="#111111"/>
<rect x="1511" y="996" width="10.5" height="10.5" fill="#111111"/>
<rect x="1535.25" y="698.5" width="10.5" height="10.5" fill="#111111"/>
<polyline points="981.25,1092.5 1011.25,1090.75 1041.25,1089.5" fill="none" stroke="#da2628" stroke-width="2.8" stroke-linejoin="round" />
<polyline points="1130.75,1085 1160,1083.25 1190,1081.75 1220,1080 1250,1078.25 1279.25,1076.75 1308.75,1074.5 1338.25,1072.5 1368,1070 1397.5,1066.25 1427.5,1060.5 1457.5,1051.75 1487.5,1032 1517.5,958 1540.5,703.75" fill="none" stroke="#da2628" stroke-width="2.8" stroke-linejoin="round" />
<circle cx="981.25" cy="1092.5" r="5.8" fill="#da2628"/>
<circle cx="1011.25" cy="1090.75" r="5.8" fill="#da2628"/>
<circle cx="1041.25" cy="1089.5" r="5.8" fill="#da2628"/>
<circle cx="1130.75" cy="1085" r="5.8" fill="#da2628"/>
<circle cx="1160" cy="1083.25" r="5.8" fill="#da2628"/>
<circle cx="1190" cy="1081.75" r="5.8" fill="#da2628"/>
<circle cx="1220" cy="1080" r="5.8" fill="#da2628"/>
<circle cx="1250" cy="1078.25" r="5.8" fill="#da2628"/>
<circle cx="1279.25" cy="1076.75" r="5.8" fill="#da2628"/>
<circle cx="1308.75" cy="1074.5" r="5.8" fill="#da2628"/>
<circle cx="1338.25" cy="1072.5" r="5.8" fill="#da2628"/>
<circle cx="1368" cy="1070" r="5.8" fill="#da2628"/>
<circle cx="1397.5" cy="1066.25" r="5.8" fill="#da2628"/>
<circle cx="1427.5" cy="1060.5" r="5.8" fill="#da2628"/>
<circle cx="1457.5" cy="1051.75" r="5.8" fill="#da2628"/>
<circle cx="1487.5" cy="1032" r="5.8" fill="#da2628"/>
<circle cx="1517.5" cy="958" r="5.8" fill="#da2628"/>
<circle cx="1540.5" cy="703.75" r="5.8" fill="#da2628"/>
<path d="M1818.9,663H2468.9V1140.8H1818.9Z M1822,666.2V1138H2466.1V666.2Z" fill="#1f1b1c" fill-rule="evenodd"/>
<line x1="1821" y1="1075.65" x2="1834" y2="1075.65" stroke="#1f1b1c" stroke-width="3"/>
<line x1="1821" y1="1012.4" x2="1834" y2="1012.4" stroke="#1f1b1c" stroke-width="3"/>
<line x1="1821" y1="949.15" x2="1834" y2="949.15" stroke="#1f1b1c" stroke-width="3"/>
<line x1="1821" y1="885.9" x2="1834" y2="885.9" stroke="#1f1b1c" stroke-width="3"/>
<line x1="1821" y1="822.65" x2="1834" y2="822.65" stroke="#1f1b1c" stroke-width="3"/>
<line x1="1821" y1="759.4" x2="1834" y2="759.4" stroke="#1f1b1c" stroke-width="3"/>
<line x1="1821" y1="696.15" x2="1834" y2="696.15" stroke="#1f1b1c" stroke-width="3"/>
<line x1="1830.5" y1="1138" x2="1830.5" y2="1125" stroke="#1f1b1c" stroke-width="3"/>
<line x1="1921.8" y1="1138" x2="1921.8" y2="1125" stroke="#1f1b1c" stroke-width="3"/>
<line x1="2013.1" y1="1138" x2="2013.1" y2="1125" stroke="#1f1b1c" stroke-width="3"/>
<line x1="2104.4" y1="1138" x2="2104.4" y2="1125" stroke="#1f1b1c" stroke-width="3"/>
<line x1="2195.7" y1="1138" x2="2195.7" y2="1125" stroke="#1f1b1c" stroke-width="3"/>
<line x1="2287" y1="1138" x2="2287" y2="1125" stroke="#1f1b1c" stroke-width="3"/>
<line x1="2378.3" y1="1138" x2="2378.3" y2="1125" stroke="#1f1b1c" stroke-width="3"/>
<text x="1802.8" y="1153.2" font-size="48" text-anchor="end" class="t" >0</text>
<text x="1802.8" y="1089.48" font-size="48" text-anchor="end" class="t" >0.0001</text>
<text x="1802.8" y="1025.76" font-size="48" text-anchor="end" class="t" >0.0002</text>
<text x="1802.8" y="962.04" font-size="48" text-anchor="end" class="t" >0.0003</text>
<text x="1802.8" y="898.32" font-size="48" text-anchor="end" class="t" >0.0004</text>
<text x="1802.8" y="834.6" font-size="48" text-anchor="end" class="t" >0.0005</text>
<text x="1802.8" y="770.88" font-size="48" text-anchor="end" class="t" >0.0006</text>
<text x="1802.8" y="707.16" font-size="48" text-anchor="end" class="t" >0.0007</text>
<text x="1830.5" y="1193.3" font-size="48" text-anchor="middle" class="t" >0</text>
<text x="1921.8" y="1193.3" font-size="48" text-anchor="middle" class="t" >50</text>
<text x="2013.1" y="1193.3" font-size="48" text-anchor="middle" class="t" >100</text>
<text x="2104.4" y="1193.3" font-size="48" text-anchor="middle" class="t" >150</text>
<text x="2195.7" y="1193.3" font-size="48" text-anchor="middle" class="t" >200</text>
<text x="2287" y="1193.3" font-size="48" text-anchor="middle" class="t" >250</text>
<text x="2378.3" y="1193.3" font-size="48" text-anchor="middle" class="t" >300</text>
<text x="2466.6" y="1193.3" font-size="48" text-anchor="middle" class="t" >350</text>
<text x="2145" y="1252" font-size="48" text-anchor="middle" class="t" ><tspan class="c" dy="1.2">孔尺寸</tspan><tspan dy="-1.2">/</tspan>nm</text>
<text transform="translate(1651.5 902) rotate(-90)" font-size="48" text-anchor="middle" class="t" letter-spacing="1">d<tspan class="i">V</tspan>/<tspan class="i">d</tspan></text>
<text x="1844" y="715.5" font-size="48" text-anchor="start" class="t" >(g)</text>
<text x="2276" y="765" font-size="48" text-anchor="start" class="t" >NVOPF</text>
<clipPath id="cg"><rect x="1822" y="666.2" width="644.1" height="471.8"/></clipPath>
<g clip-path="url(#cg)">
<polyline points="1867.5,1136.25 1895.5,1136.25 1895.5,1105.5 1897,1086.25 1899.25,1071.25 1902,1062.5 1906.25,1048.75 1909.5,1042.5 1912,1037 1914.25,1008.25 1916.75,964.5 1919.75,875.5 1923.5,729.8 1927,717.9 1930.5,791 1934.2,892 1937.5,951.25 1942,961.25 1945.5,992.5 1950,1014.5 1959.5,1007 1963.75,1035.5 1969.5,1053.75 1973.75,1050 1979.25,1040.5 1984.5,1060 1990.5,1061.25 1997,1049.5 2002.5,1050.5 2008.75,1064.25 2015.5,1073.25 2022,1059.5 2029.25,1057 2036.75,1058.75 2044.5,1064.5 2052,1072.5 2060,1078 2067,1049.5 2076.25,1065.5 2084.5,1062.5 2094.25,1077.5 2103.25,1086.25 2113.75,1092 2125,1091.25 2135.5,1069.25 2145.75,1060.75 2157.5,1074.5 2168.75,1096.25 2181.75,1095.5 2193.25,1074.5 2206.75,1094.25 2220.5,1103.25 2234.25,1096.25 2248.75,1105.5 2263.75,1102 2279.25,1095.5 2295.5,1076.25 2313,1070.5 2330,1074.5 2348.25,1072.5 2366.75,1086.25 2386.25,1099.25 2405.75,1093 2426.25,1095.5 2446.75,1106.75 2468.75,1102.5" fill="none" stroke="#333333" stroke-width="1.1" stroke-linejoin="round" />
<rect x="1888" y="1098" width="15" height="15" fill="#ffffff"/>
<rect x="1889.5" y="1078.75" width="15" height="15" fill="#ffffff"/>
<rect x="1891.75" y="1063.75" width="15" height="15" fill="#ffffff"/>
<rect x="1894.5" y="1055" width="15" height="15" fill="#ffffff"/>
<rect x="1898.75" y="1041.25" width="15" height="15" fill="#ffffff"/>
<rect x="1902" y="1035" width="15" height="15" fill="#ffffff"/>
<rect x="1904.5" y="1029.5" width="15" height="15" fill="#ffffff"/>
<rect x="1906.75" y="1000.75" width="15" height="15" fill="#ffffff"/>
<rect x="1909.25" y="957" width="15" height="15" fill="#ffffff"/>
<rect x="1912.25" y="868" width="15" height="15" fill="#ffffff"/>
<rect x="1916" y="722.3" width="15" height="15" fill="#ffffff"/>
<rect x="1919.5" y="710.4" width="15" height="15" fill="#ffffff"/>
<rect x="1923" y="783.5" width="15" height="15" fill="#ffffff"/>
<rect x="1926.7" y="884.5" width="15" height="15" fill="#ffffff"/>
<rect x="1930" y="943.75" width="15" height="15" fill="#ffffff"/>
<rect x="1934.5" y="953.75" width="15" height="15" fill="#ffffff"/>
<rect x="1938" y="985" width="15" height="15" fill="#ffffff"/>
<rect x="1942.5" y="1007" width="15" height="15" fill="#ffffff"/>
<rect x="1952" y="999.5" width="15" height="15" fill="#ffffff"/>
<rect x="1956.25" y="1028" width="15" height="15" fill="#ffffff"/>
<rect x="1962" y="1046.25" width="15" height="15" fill="#ffffff"/>
<rect x="1966.25" y="1042.5" width="15" height="15" fill="#ffffff"/>
<rect x="1971.75" y="1033" width="15" height="15" fill="#ffffff"/>
<rect x="1977" y="1052.5" width="15" height="15" fill="#ffffff"/>
<rect x="1983" y="1053.75" width="15" height="15" fill="#ffffff"/>
<rect x="1989.5" y="1042" width="15" height="15" fill="#ffffff"/>
<rect x="1995" y="1043" width="15" height="15" fill="#ffffff"/>
<rect x="2001.25" y="1056.75" width="15" height="15" fill="#ffffff"/>
<rect x="2008" y="1065.75" width="15" height="15" fill="#ffffff"/>
<rect x="2014.5" y="1052" width="15" height="15" fill="#ffffff"/>
<rect x="2021.75" y="1049.5" width="15" height="15" fill="#ffffff"/>
<rect x="2029.25" y="1051.25" width="15" height="15" fill="#ffffff"/>
<rect x="2037" y="1057" width="15" height="15" fill="#ffffff"/>
<rect x="2044.5" y="1065" width="15" height="15" fill="#ffffff"/>
<rect x="2052.5" y="1070.5" width="15" height="15" fill="#ffffff"/>
<rect x="2059.5" y="1042" width="15" height="15" fill="#ffffff"/>
<rect x="2068.75" y="1058" width="15" height="15" fill="#ffffff"/>
<rect x="2077" y="1055" width="15" height="15" fill="#ffffff"/>
<rect x="2086.75" y="1070" width="15" height="15" fill="#ffffff"/>
<rect x="2095.75" y="1078.75" width="15" height="15" fill="#ffffff"/>
<rect x="2106.25" y="1084.5" width="15" height="15" fill="#ffffff"/>
<rect x="2117.5" y="1083.75" width="15" height="15" fill="#ffffff"/>
<rect x="2128" y="1061.75" width="15" height="15" fill="#ffffff"/>
<rect x="2138.25" y="1053.25" width="15" height="15" fill="#ffffff"/>
<rect x="2150" y="1067" width="15" height="15" fill="#ffffff"/>
<rect x="2161.25" y="1088.75" width="15" height="15" fill="#ffffff"/>
<rect x="2174.25" y="1088" width="15" height="15" fill="#ffffff"/>
<rect x="2185.75" y="1067" width="15" height="15" fill="#ffffff"/>
<rect x="2199.25" y="1086.75" width="15" height="15" fill="#ffffff"/>
<rect x="2213" y="1095.75" width="15" height="15" fill="#ffffff"/>
<rect x="2226.75" y="1088.75" width="15" height="15" fill="#ffffff"/>
<rect x="2241.25" y="1098" width="15" height="15" fill="#ffffff"/>
<rect x="2256.25" y="1094.5" width="15" height="15" fill="#ffffff"/>
<rect x="2271.75" y="1088" width="15" height="15" fill="#ffffff"/>
<rect x="2288" y="1068.75" width="15" height="15" fill="#ffffff"/>
<rect x="2305.5" y="1063" width="15" height="15" fill="#ffffff"/>
<rect x="2322.5" y="1067" width="15" height="15" fill="#ffffff"/>
<rect x="2340.75" y="1065" width="15" height="15" fill="#ffffff"/>
<rect x="2359.25" y="1078.75" width="15" height="15" fill="#ffffff"/>
<rect x="2378.75" y="1091.75" width="15" height="15" fill="#ffffff"/>
<rect x="2398.25" y="1085.5" width="15" height="15" fill="#ffffff"/>
<rect x="2418.75" y="1088" width="15" height="15" fill="#ffffff"/>
<rect x="2439.25" y="1099.25" width="15" height="15" fill="#ffffff"/>
<rect x="2461.25" y="1095" width="15" height="15" fill="#ffffff"/>
<rect x="1890.15" y="1100.15" width="10.7" height="10.7" fill="#111111"/>
<rect x="1891.65" y="1080.9" width="10.7" height="10.7" fill="#111111"/>
<rect x="1893.9" y="1065.9" width="10.7" height="10.7" fill="#111111"/>
<rect x="1896.65" y="1057.15" width="10.7" height="10.7" fill="#111111"/>
<rect x="1900.9" y="1043.4" width="10.7" height="10.7" fill="#111111"/>
<rect x="1904.15" y="1037.15" width="10.7" height="10.7" fill="#111111"/>
<rect x="1906.65" y="1031.65" width="10.7" height="10.7" fill="#111111"/>
<rect x="1908.9" y="1002.9" width="10.7" height="10.7" fill="#111111"/>
<rect x="1911.4" y="959.15" width="10.7" height="10.7" fill="#111111"/>
<rect x="1914.4" y="870.15" width="10.7" height="10.7" fill="#111111"/>
<rect x="1918.15" y="724.45" width="10.7" height="10.7" fill="#111111"/>
<rect x="1921.65" y="712.55" width="10.7" height="10.7" fill="#111111"/>
<rect x="1925.15" y="785.65" width="10.7" height="10.7" fill="#111111"/>
<rect x="1928.85" y="886.65" width="10.7" height="10.7" fill="#111111"/>
<rect x="1932.15" y="945.9" width="10.7" height="10.7" fill="#111111"/>
<rect x="1936.65" y="955.9" width="10.7" height="10.7" fill="#111111"/>
<rect x="1940.15" y="987.15" width="10.7" height="10.7" fill="#111111"/>
<rect x="1944.65" y="1009.15" width="10.7" height="10.7" fill="#111111"/>
<rect x="1954.15" y="1001.65" width="10.7" height="10.7" fill="#111111"/>
<rect x="1958.4" y="1030.15" width="10.7" height="10.7" fill="#111111"/>
<rect x="1964.15" y="1048.4" width="10.7" height="10.7" fill="#111111"/>
<rect x="1968.4" y="1044.65" width="10.7" height="10.7" fill="#111111"/>
<rect x="1973.9" y="1035.15" width="10.7" height="10.7" fill="#111111"/>
<rect x="1979.15" y="1054.65" width="10.7" height="10.7" fill="#111111"/>
<rect x="1985.15" y="1055.9" width="10.7" height="10.7" fill="#111111"/>
<rect x="1991.65" y="1044.15" width="10.7" height="10.7" fill="#111111"/>
<rect x="1997.15" y="1045.15" width="10.7" height="10.7" fill="#111111"/>
<rect x="2003.4" y="1058.9" width="10.7" height="10.7" fill="#111111"/>
<rect x="2010.15" y="1067.9" width="10.7" height="10.7" fill="#111111"/>
<rect x="2016.65" y="1054.15" width="10.7" height="10.7" fill="#111111"/>
<rect x="2023.9" y="1051.65" width="10.7" height="10.7" fill="#111111"/>
<rect x="2031.4" y="1053.4" width="10.7" height="10.7" fill="#111111"/>
<rect x="2039.15" y="1059.15" width="10.7" height="10.7" fill="#111111"/>
<rect x="2046.65" y="1067.15" width="10.7" height="10.7" fill="#111111"/>
<rect x="2054.65" y="1072.65" width="10.7" height="10.7" fill="#111111"/>
<rect x="2061.65" y="1044.15" width="10.7" height="10.7" fill="#111111"/>
<rect x="2070.9" y="1060.15" width="10.7" height="10.7" fill="#111111"/>
<rect x="2079.15" y="1057.15" width="10.7" height="10.7" fill="#111111"/>
<rect x="2088.9" y="1072.15" width="10.7" height="10.7" fill="#111111"/>
<rect x="2097.9" y="1080.9" width="10.7" height="10.7" fill="#111111"/>
<rect x="2108.4" y="1086.65" width="10.7" height="10.7" fill="#111111"/>
<rect x="2119.65" y="1085.9" width="10.7" height="10.7" fill="#111111"/>
<rect x="2130.15" y="1063.9" width="10.7" height="10.7" fill="#111111"/>
<rect x="2140.4" y="1055.4" width="10.7" height="10.7" fill="#111111"/>
<rect x="2152.15" y="1069.15" width="10.7" height="10.7" fill="#111111"/>
<rect x="2163.4" y="1090.9" width="10.7" height="10.7" fill="#111111"/>
<rect x="2176.4" y="1090.15" width="10.7" height="10.7" fill="#111111"/>
<rect x="2187.9" y="1069.15" width="10.7" height="10.7" fill="#111111"/>
<rect x="2201.4" y="1088.9" width="10.7" height="10.7" fill="#111111"/>
<rect x="2215.15" y="1097.9" width="10.7" height="10.7" fill="#111111"/>
<rect x="2228.9" y="1090.9" width="10.7" height="10.7" fill="#111111"/>
<rect x="2243.4" y="1100.15" width="10.7" height="10.7" fill="#111111"/>
<rect x="2258.4" y="1096.65" width="10.7" height="10.7" fill="#111111"/>
<rect x="2273.9" y="1090.15" width="10.7" height="10.7" fill="#111111"/>
<rect x="2290.15" y="1070.9" width="10.7" height="10.7" fill="#111111"/>
<rect x="2307.65" y="1065.15" width="10.7" height="10.7" fill="#111111"/>
<rect x="2324.65" y="1069.15" width="10.7" height="10.7" fill="#111111"/>
<rect x="2342.9" y="1067.15" width="10.7" height="10.7" fill="#111111"/>
<rect x="2361.4" y="1080.9" width="10.7" height="10.7" fill="#111111"/>
<rect x="2380.9" y="1093.9" width="10.7" height="10.7" fill="#111111"/>
<rect x="2400.4" y="1087.65" width="10.7" height="10.7" fill="#111111"/>
<rect x="2420.9" y="1090.15" width="10.7" height="10.7" fill="#111111"/>
<rect x="2441.4" y="1101.4" width="10.7" height="10.7" fill="#111111"/>
<rect x="2463.4" y="1097.15" width="10.7" height="10.7" fill="#111111"/>
<rect x="1864" y="1134.8" width="34" height="3.2" fill="#111111"/>
</g>
<path d="M2662,663H3312V1140.8H2662Z M2665.2,666.1V1138H3309.2V666.1Z" fill="#1f1b1c" fill-rule="evenodd"/>
<line x1="2664" y1="1083.25" x2="2677" y2="1083.25" stroke="#1f1b1c" stroke-width="3"/>
<line x1="2664" y1="1027.5" x2="2677" y2="1027.5" stroke="#1f1b1c" stroke-width="3"/>
<line x1="2664" y1="971.75" x2="2677" y2="971.75" stroke="#1f1b1c" stroke-width="3"/>
<line x1="2664" y1="916" x2="2677" y2="916" stroke="#1f1b1c" stroke-width="3"/>
<line x1="2664" y1="860.25" x2="2677" y2="860.25" stroke="#1f1b1c" stroke-width="3"/>
<line x1="2664" y1="804.5" x2="2677" y2="804.5" stroke="#1f1b1c" stroke-width="3"/>
<line x1="2664" y1="748.75" x2="2677" y2="748.75" stroke="#1f1b1c" stroke-width="3"/>
<line x1="2664" y1="693" x2="2677" y2="693" stroke="#1f1b1c" stroke-width="3"/>
<line x1="2722.5" y1="1138" x2="2722.5" y2="1125" stroke="#1f1b1c" stroke-width="3"/>
<line x1="2840.1" y1="1138" x2="2840.1" y2="1125" stroke="#1f1b1c" stroke-width="3"/>
<line x1="2957.7" y1="1138" x2="2957.7" y2="1125" stroke="#1f1b1c" stroke-width="3"/>
<line x1="3075.3" y1="1138" x2="3075.3" y2="1125" stroke="#1f1b1c" stroke-width="3"/>
<line x1="3192.9" y1="1138" x2="3192.9" y2="1125" stroke="#1f1b1c" stroke-width="3"/>
<text x="2644" y="1152.7" font-size="48" text-anchor="end" class="t" >0</text>
<text x="2644" y="1096.8" font-size="48" text-anchor="end" class="t" >0.001</text>
<text x="2644" y="1040.9" font-size="48" text-anchor="end" class="t" >0.002</text>
<text x="2644" y="985" font-size="48" text-anchor="end" class="t" >0.003</text>
<text x="2644" y="929.1" font-size="48" text-anchor="end" class="t" >0.004</text>
<text x="2644" y="873.2" font-size="48" text-anchor="end" class="t" >0.005</text>
<text x="2644" y="817.3" font-size="48" text-anchor="end" class="t" >0.006</text>
<text x="2644" y="761.4" font-size="48" text-anchor="end" class="t" >0.007</text>
<text x="2644" y="705.5" font-size="48" text-anchor="end" class="t" >0.008</text>
<text x="2722.5" y="1193.3" font-size="48" text-anchor="middle" class="t" >0</text>
<text x="2840.1" y="1193.3" font-size="48" text-anchor="middle" class="t" >10</text>
<text x="2957.7" y="1193.3" font-size="48" text-anchor="middle" class="t" >20</text>
<text x="3075.3" y="1193.3" font-size="48" text-anchor="middle" class="t" >30</text>
<text x="3192.9" y="1193.3" font-size="48" text-anchor="middle" class="t" >40</text>
<text x="3310.5" y="1193.3" font-size="48" text-anchor="middle" class="t" >50</text>
<text x="2988" y="1252" font-size="48" text-anchor="middle" class="t" ><tspan class="c" dy="1.2">孔尺寸</tspan><tspan dy="-1.2">/</tspan>nm</text>
<text transform="translate(2518 902) rotate(-90)" font-size="48" text-anchor="middle" class="t" letter-spacing="1">d<tspan class="i">V</tspan>/<tspan class="i">d</tspan></text>
<text x="2689.7" y="715.5" font-size="48" text-anchor="start" class="t" >(h)</text>
<text x="3094.5" y="765" font-size="48" text-anchor="start" class="t" >NFVOPF</text>
<polyline points="2748,1095.75 2749.25,1086.25 2750.5,1076.25 2751.75,1063.75 2753.75,1054.5 2753.75,1047 2755,1032.5 2757.5,1010.75 2759.25,989.25 2761,962.5 2762,940.5 2763.75,923 2764.5,898.75 2766,883.75 2767.5,871.25 2772.5,910 2770,921.25 2780,908.75 2783.75,945.5 2790,943.75 2795,940 2797.5,967.5 2802.5,970 2805.5,961.25 2808,992.5 2813.75,997.5 2819.5,983.75 2822.5,1001.25 2828.25,993 2832,971.25 2836.25,993.75 2842.5,995 2846.25,967.5 2853.75,962 2860,967.5 2865.5,987.5 2871.25,990 2876.75,931.25 2881.25,941.25 2886.75,937.5 2893.75,971.75 2900,991.75 2906.25,1006.25 2912,997 2920,933.75 2927.25,851.25 2934.25,893.75 2941.25,958 2949.5,963 2957.75,898.75 2966.25,959.5 2975,988.75 2983.75,974.25 2993.75,1001.25 3002.75,985.5 3013.5,877.5 3024.25,755.75 3035.25,711.5 3045.25,738 3057.75,726.25 3069.25,809.25 3082,880.25 3094.75,848.75 3108.25,866.25 3122,927.5 3135.75,905.5 3150.75,925.75 3165,965.75 3180.75,953.25 3196.25,964.5 3213.25,1001.25 3230,988" fill="none" stroke="#333333" stroke-width="1.1" stroke-linejoin="round" />
<rect x="2740.5" y="1088.25" width="15" height="15" fill="#ffffff"/>
<rect x="2741.75" y="1078.75" width="15" height="15" fill="#ffffff"/>
<rect x="2743" y="1068.75" width="15" height="15" fill="#ffffff"/>
<rect x="2744.25" y="1056.25" width="15" height="15" fill="#ffffff"/>
<rect x="2746.25" y="1047" width="15" height="15" fill="#ffffff"/>
<rect x="2746.25" y="1039.5" width="15" height="15" fill="#ffffff"/>
<rect x="2747.5" y="1025" width="15" height="15" fill="#ffffff"/>
<rect x="2750" y="1003.25" width="15" height="15" fill="#ffffff"/>
<rect x="2751.75" y="981.75" width="15" height="15" fill="#ffffff"/>
<rect x="2753.5" y="955" width="15" height="15" fill="#ffffff"/>
<rect x="2754.5" y="933" width="15" height="15" fill="#ffffff"/>
<rect x="2756.25" y="915.5" width="15" height="15" fill="#ffffff"/>
<rect x="2757" y="891.25" width="15" height="15" fill="#ffffff"/>
<rect x="2758.5" y="876.25" width="15" height="15" fill="#ffffff"/>
<rect x="2760" y="863.75" width="15" height="15" fill="#ffffff"/>
<rect x="2765" y="902.5" width="15" height="15" fill="#ffffff"/>
<rect x="2762.5" y="913.75" width="15" height="15" fill="#ffffff"/>
<rect x="2772.5" y="901.25" width="15" height="15" fill="#ffffff"/>
<rect x="2776.25" y="938" width="15" height="15" fill="#ffffff"/>
<rect x="2782.5" y="936.25" width="15" height="15" fill="#ffffff"/>
<rect x="2787.5" y="932.5" width="15" height="15" fill="#ffffff"/>
<rect x="2790" y="960" width="15" height="15" fill="#ffffff"/>
<rect x="2795" y="962.5" width="15" height="15" fill="#ffffff"/>
<rect x="2798" y="953.75" width="15" height="15" fill="#ffffff"/>
<rect x="2800.5" y="985" width="15" height="15" fill="#ffffff"/>
<rect x="2806.25" y="990" width="15" height="15" fill="#ffffff"/>
<rect x="2812" y="976.25" width="15" height="15" fill="#ffffff"/>
<rect x="2815" y="993.75" width="15" height="15" fill="#ffffff"/>
<rect x="2820.75" y="985.5" width="15" height="15" fill="#ffffff"/>
<rect x="2824.5" y="963.75" width="15" height="15" fill="#ffffff"/>
<rect x="2828.75" y="986.25" width="15" height="15" fill="#ffffff"/>
<rect x="2835" y="987.5" width="15" height="15" fill="#ffffff"/>
<rect x="2838.75" y="960" width="15" height="15" fill="#ffffff"/>
<rect x="2846.25" y="954.5" width="15" height="15" fill="#ffffff"/>
<rect x="2852.5" y="960" width="15" height="15" fill="#ffffff"/>
<rect x="2858" y="980" width="15" height="15" fill="#ffffff"/>
<rect x="2863.75" y="982.5" width="15" height="15" fill="#ffffff"/>
<rect x="2869.25" y="923.75" width="15" height="15" fill="#ffffff"/>
<rect x="2873.75" y="933.75" width="15" height="15" fill="#ffffff"/>
<rect x="2879.25" y="930" width="15" height="15" fill="#ffffff"/>
<rect x="2886.25" y="964.25" width="15" height="15" fill="#ffffff"/>
<rect x="2892.5" y="984.25" width="15" height="15" fill="#ffffff"/>
<rect x="2898.75" y="998.75" width="15" height="15" fill="#ffffff"/>
<rect x="2904.5" y="989.5" width="15" height="15" fill="#ffffff"/>
<rect x="2912.5" y="926.25" width="15" height="15" fill="#ffffff"/>
<rect x="2919.75" y="843.75" width="15" height="15" fill="#ffffff"/>
<rect x="2926.75" y="886.25" width="15" height="15" fill="#ffffff"/>
<rect x="2933.75" y="950.5" width="15" height="15" fill="#ffffff"/>
<rect x="2942" y="955.5" width="15" height="15" fill="#ffffff"/>
<rect x="2950.25" y="891.25" width="15" height="15" fill="#ffffff"/>
<rect x="2958.75" y="952" width="15" height="15" fill="#ffffff"/>
<rect x="2967.5" y="981.25" width="15" height="15" fill="#ffffff"/>
<rect x="2976.25" y="966.75" width="15" height="15" fill="#ffffff"/>
<rect x="2986.25" y="993.75" width="15" height="15" fill="#ffffff"/>
<rect x="2995.25" y="978" width="15" height="15" fill="#ffffff"/>
<rect x="3006" y="870" width="15" height="15" fill="#ffffff"/>
<rect x="3016.75" y="748.25" width="15" height="15" fill="#ffffff"/>
<rect x="3027.75" y="704" width="15" height="15" fill="#ffffff"/>
<rect x="3037.75" y="730.5" width="15" height="15" fill="#ffffff"/>
<rect x="3050.25" y="718.75" width="15" height="15" fill="#ffffff"/>
<rect x="3061.75" y="801.75" width="15" height="15" fill="#ffffff"/>
<rect x="3074.5" y="872.75" width="15" height="15" fill="#ffffff"/>
<rect x="3087.25" y="841.25" width="15" height="15" fill="#ffffff"/>
<rect x="3100.75" y="858.75" width="15" height="15" fill="#ffffff"/>
<rect x="3114.5" y="920" width="15" height="15" fill="#ffffff"/>
<rect x="3128.25" y="898" width="15" height="15" fill="#ffffff"/>
<rect x="3143.25" y="918.25" width="15" height="15" fill="#ffffff"/>
<rect x="3157.5" y="958.25" width="15" height="15" fill="#ffffff"/>
<rect x="3173.25" y="945.75" width="15" height="15" fill="#ffffff"/>
<rect x="3188.75" y="957" width="15" height="15" fill="#ffffff"/>
<rect x="3205.75" y="993.75" width="15" height="15" fill="#ffffff"/>
<rect x="3222.5" y="980.5" width="15" height="15" fill="#ffffff"/>
<rect x="2742.65" y="1090.4" width="10.7" height="10.7" fill="#111111"/>
<rect x="2743.9" y="1080.9" width="10.7" height="10.7" fill="#111111"/>
<rect x="2745.15" y="1070.9" width="10.7" height="10.7" fill="#111111"/>
<rect x="2746.4" y="1058.4" width="10.7" height="10.7" fill="#111111"/>
<rect x="2748.4" y="1049.15" width="10.7" height="10.7" fill="#111111"/>
<rect x="2748.4" y="1041.65" width="10.7" height="10.7" fill="#111111"/>
<rect x="2749.65" y="1027.15" width="10.7" height="10.7" fill="#111111"/>
<rect x="2752.15" y="1005.4" width="10.7" height="10.7" fill="#111111"/>
<rect x="2753.9" y="983.9" width="10.7" height="10.7" fill="#111111"/>
<rect x="2755.65" y="957.15" width="10.7" height="10.7" fill="#111111"/>
<rect x="2756.65" y="935.15" width="10.7" height="10.7" fill="#111111"/>
<rect x="2758.4" y="917.65" width="10.7" height="10.7" fill="#111111"/>
<rect x="2759.15" y="893.4" width="10.7" height="10.7" fill="#111111"/>
<rect x="2760.65" y="878.4" width="10.7" height="10.7" fill="#111111"/>
<rect x="2762.15" y="865.9" width="10.7" height="10.7" fill="#111111"/>
<rect x="2767.15" y="904.65" width="10.7" height="10.7" fill="#111111"/>
<rect x="2764.65" y="915.9" width="10.7" height="10.7" fill="#111111"/>
<rect x="2774.65" y="903.4" width="10.7" height="10.7" fill="#111111"/>
<rect x="2778.4" y="940.15" width="10.7" height="10.7" fill="#111111"/>
<rect x="2784.65" y="938.4" width="10.7" height="10.7" fill="#111111"/>
<rect x="2789.65" y="934.65" width="10.7" height="10.7" fill="#111111"/>
<rect x="2792.15" y="962.15" width="10.7" height="10.7" fill="#111111"/>
<rect x="2797.15" y="964.65" width="10.7" height="10.7" fill="#111111"/>
<rect x="2800.15" y="955.9" width="10.7" height="10.7" fill="#111111"/>
<rect x="2802.65" y="987.15" width="10.7" height="10.7" fill="#111111"/>
<rect x="2808.4" y="992.15" width="10.7" height="10.7" fill="#111111"/>
<rect x="2814.15" y="978.4" width="10.7" height="10.7" fill="#111111"/>
<rect x="2817.15" y="995.9" width="10.7" height="10.7" fill="#111111"/>
<rect x="2822.9" y="987.65" width="10.7" height="10.7" fill="#111111"/>
<rect x="2826.65" y="965.9" width="10.7" height="10.7" fill="#111111"/>
<rect x="2830.9" y="988.4" width="10.7" height="10.7" fill="#111111"/>
<rect x="2837.15" y="989.65" width="10.7" height="10.7" fill="#111111"/>
<rect x="2840.9" y="962.15" width="10.7" height="10.7" fill="#111111"/>
<rect x="2848.4" y="956.65" width="10.7" height="10.7" fill="#111111"/>
<rect x="2854.65" y="962.15" width="10.7" height="10.7" fill="#111111"/>
<rect x="2860.15" y="982.15" width="10.7" height="10.7" fill="#111111"/>
<rect x="2865.9" y="984.65" width="10.7" height="10.7" fill="#111111"/>
<rect x="2871.4" y="925.9" width="10.7" height="10.7" fill="#111111"/>
<rect x="2875.9" y="935.9" width="10.7" height="10.7" fill="#111111"/>
<rect x="2881.4" y="932.15" width="10.7" height="10.7" fill="#111111"/>
<rect x="2888.4" y="966.4" width="10.7" height="10.7" fill="#111111"/>
<rect x="2894.65" y="986.4" width="10.7" height="10.7" fill="#111111"/>
<rect x="2900.9" y="1000.9" width="10.7" height="10.7" fill="#111111"/>
<rect x="2906.65" y="991.65" width="10.7" height="10.7" fill="#111111"/>
<rect x="2914.65" y="928.4" width="10.7" height="10.7" fill="#111111"/>
<rect x="2921.9" y="845.9" width="10.7" height="10.7" fill="#111111"/>
<rect x="2928.9" y="888.4" width="10.7" height="10.7" fill="#111111"/>
<rect x="2935.9" y="952.65" width="10.7" height="10.7" fill="#111111"/>
<rect x="2944.15" y="957.65" width="10.7" height="10.7" fill="#111111"/>
<rect x="2952.4" y="893.4" width="10.7" height="10.7" fill="#111111"/>
<rect x="2960.9" y="954.15" width="10.7" height="10.7" fill="#111111"/>
<rect x="2969.65" y="983.4" width="10.7" height="10.7" fill="#111111"/>
<rect x="2978.4" y="968.9" width="10.7" height="10.7" fill="#111111"/>
<rect x="2988.4" y="995.9" width="10.7" height="10.7" fill="#111111"/>
<rect x="2997.4" y="980.15" width="10.7" height="10.7" fill="#111111"/>
<rect x="3008.15" y="872.15" width="10.7" height="10.7" fill="#111111"/>
<rect x="3018.9" y="750.4" width="10.7" height="10.7" fill="#111111"/>
<rect x="3029.9" y="706.15" width="10.7" height="10.7" fill="#111111"/>
<rect x="3039.9" y="732.65" width="10.7" height="10.7" fill="#111111"/>
<rect x="3052.4" y="720.9" width="10.7" height="10.7" fill="#111111"/>
<rect x="3063.9" y="803.9" width="10.7" height="10.7" fill="#111111"/>
<rect x="3076.65" y="874.9" width="10.7" height="10.7" fill="#111111"/>
<rect x="3089.4" y="843.4" width="10.7" height="10.7" fill="#111111"/>
<rect x="3102.9" y="860.9" width="10.7" height="10.7" fill="#111111"/>
<rect x="3116.65" y="922.15" width="10.7" height="10.7" fill="#111111"/>
<rect x="3130.4" y="900.15" width="10.7" height="10.7" fill="#111111"/>
<rect x="3145.4" y="920.4" width="10.7" height="10.7" fill="#111111"/>
<rect x="3159.65" y="960.4" width="10.7" height="10.7" fill="#111111"/>
<rect x="3175.4" y="947.9" width="10.7" height="10.7" fill="#111111"/>
<rect x="3190.9" y="959.15" width="10.7" height="10.7" fill="#111111"/>
<rect x="3207.9" y="995.9" width="10.7" height="10.7" fill="#111111"/>
<rect x="3224.65" y="982.65" width="10.7" height="10.7" fill="#111111"/>
</svg>
</body>
</html>
